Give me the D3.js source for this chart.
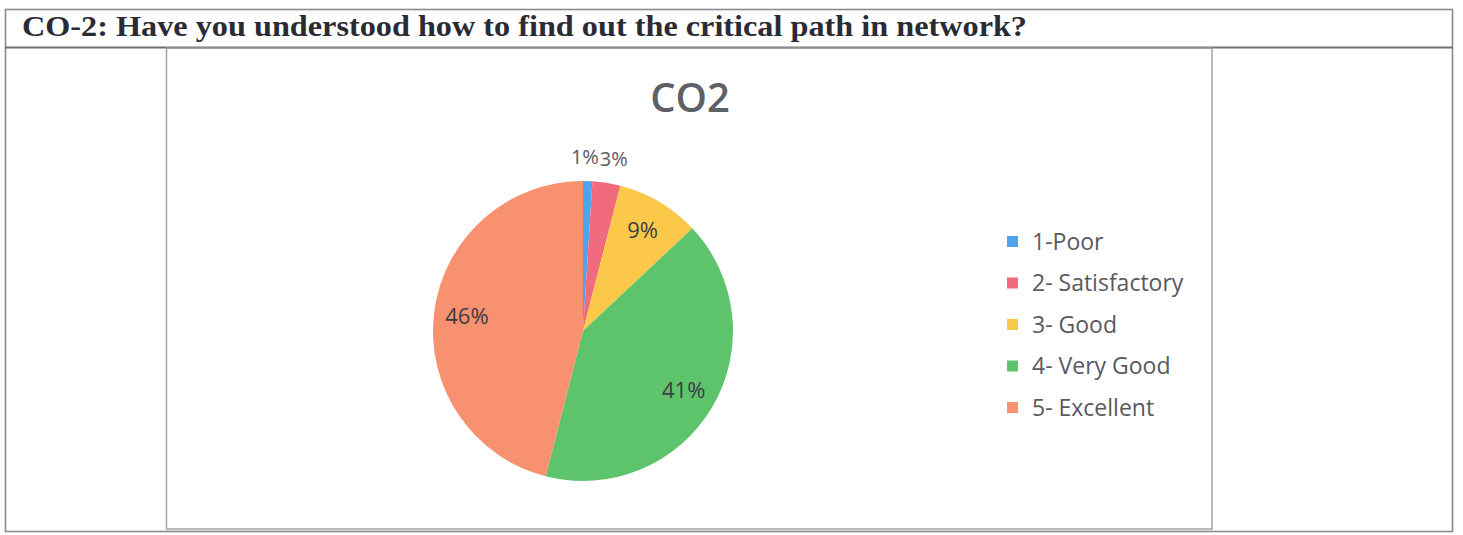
<!DOCTYPE html>
<html>
<head>
<meta charset="utf-8">
<script src="https://cdn.jsdelivr.net/npm/d3@7"></script>
<style>
  html, body { margin: 0; padding: 0; background: #ffffff; }
  svg { display: block; }
</style>
</head>
<body>
<svg id="chart" width="1463" height="535"></svg>
<script>
// ---- data ----
const categories = ["1-Poor", "2- Satisfactory", "3- Good", "4- Very Good", "5- Excellent"];
const values = [1, 3, 9, 41, 46];
const labels = ["1%", "3%", "9%", "41%", "46%"];
const colors = ["#4da3ec", "#f06b7d", "#fcc84a", "#5ec46c", "#f89170"];
const heading = "CO-2: Have you understood how to find out the critical path in network?";
const chartTitle = "CO2";

const svg = d3.select("#chart");

// table frame
const frame = svg.append("g").attr("fill", "none").attr("stroke", "#8a8a92");
frame.append("rect").attr("x", 5.5).attr("y", 9.5).attr("width", 1447).attr("height", 522).attr("stroke-width", 1.6);
frame.append("line").attr("x1", 5).attr("x2", 1453).attr("y1", 47.5).attr("y2", 47.5).attr("stroke-width", 2).attr("stroke", "#6e6e78");
frame.append("rect").attr("x", 166.5).attr("y", 48).attr("width", 1045.5).attr("height", 481).attr("stroke", "#9a9aa2").attr("stroke-width", 1.4);

// heading
svg.append("text")
  .attr("x", 22).attr("y", 36)
  .attr("font-family", "'Liberation Serif', 'Times New Roman', serif")
  .attr("font-weight", "bold")
  .attr("font-size", 30)
  .attr("fill", "#2b2b36")
  .attr("textLength", 1005)
  .attr("lengthAdjust", "spacingAndGlyphs")
  .text(heading);

// chart title
svg.append("text")
  .attr("x", 690).attr("y", 112)
  .attr("text-anchor", "middle")
  .attr("font-family", "'Open Sans', sans-serif")
  .attr("font-weight", 600)
  .attr("font-size", 40)
  .attr("fill", "#5f5f66")
  .text(chartTitle);

// pie
const cx = 583, cy = 331, R = 150;
const data = categories.map((c, i) => ({ cat: c, value: values[i], label: labels[i], color: colors[i] }));
const pie = d3.pie().sort(null).value(d => d.value);
const arcs = pie(data);
const arc = d3.arc().innerRadius(0).outerRadius(R);
const g = svg.append("g").attr("transform", `translate(${cx},${cy})`);
g.selectAll("path").data(arcs).enter().append("path")
  .attr("d", arc)
  .attr("fill", d => d.data.color);

const inLabel = d3.arc().innerRadius(R * 0.78).outerRadius(R * 0.78);
const outLabel = d3.arc().innerRadius(R * 1.16).outerRadius(R * 1.16);
const lbls = g.selectAll("text.lbl").data(arcs).enter().append("text")
  .attr("class", "lbl")
  .each(function(d) {
    const p = (d.data.value < 5 ? outLabel : inLabel).centroid(d);
    d.lx = p[0]; d.ly = p[1];
  })
  .attr("x", d => d.lx).attr("y", d => d.ly)
  .attr("text-anchor", "middle")
  .attr("dy", "0.35em")
  .attr("font-family", "'Open Sans', sans-serif")
  .attr("font-size", d => d.data.value < 5 ? 20 : 22)
  .attr("fill", d => d.data.value < 5 ? "#5a5a62" : "#3c3c44")
  .text(d => d.data.label);

// push apart overlapping outside labels horizontally (minimal separation)
const outs = lbls.filter(d => d.data.value < 5).nodes();
for (let i = 1; i < outs.length; i++) {
  const a = d3.select(outs[i - 1]).datum(), b = d3.select(outs[i]).datum();
  const wa = outs[i - 1].getComputedTextLength(), wb = outs[i].getComputedTextLength();
  const need = (wa + wb) / 2 + 1 - (b.lx - a.lx);
  if (need > 0) { a.lx -= need / 2; b.lx += need / 2; }
}
lbls.attr("x", d => d.lx);

// legend
const leg = svg.append("g").attr("transform", "translate(1007,241.5)");
const rows = leg.selectAll("g").data(data).enter().append("g")
  .attr("transform", (d, i) => `translate(0,${i * 41.5})`);
rows.append("rect").attr("x", 0).attr("y", -5.5).attr("width", 11).attr("height", 11)
  .attr("fill", d => d.color);
rows.append("text").attr("x", 25).attr("dy", "0.35em")
  .attr("font-family", "'Open Sans', sans-serif")
  .attr("font-size", 23)
  .attr("fill", "#595962")
  .text(d => d.cat);
</script>
</body>
</html>
